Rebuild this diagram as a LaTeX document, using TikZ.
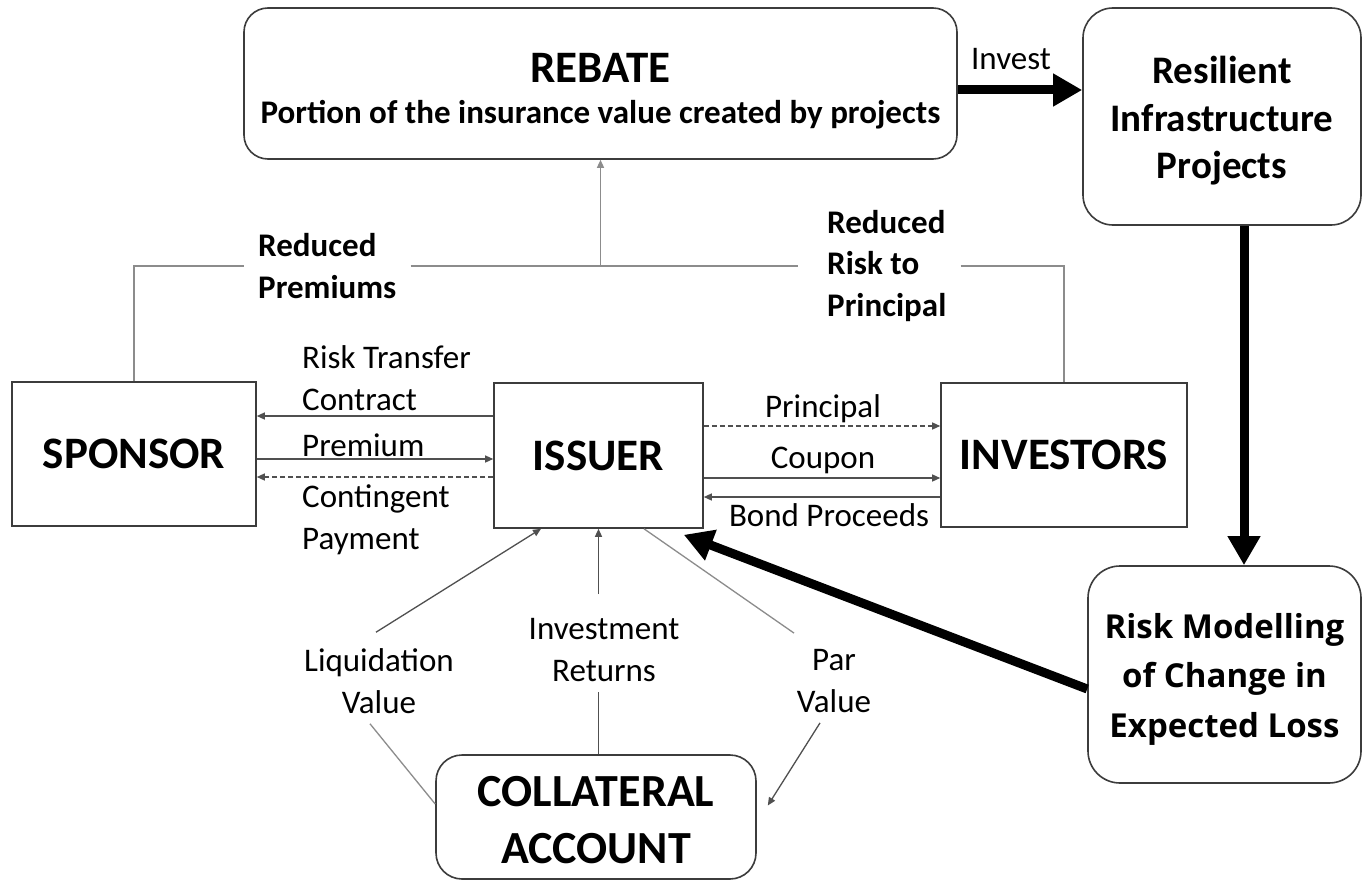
\documentclass[tikz,border=0pt]{standalone}
\usepackage{fontspec}
\setmainfont{Carlito}
\newfontfamily\modelfont{Open Sans}
\usetikzlibrary{arrows.meta,positioning,calc}
\definecolor{catgray}{RGB}{60,60,60}
\definecolor{catlink}{RGB}{80,80,80}
\definecolor{catlight}{RGB}{140,140,140}
\tikzset{
  entity/.style={draw=catgray, line width=1.6pt, fill=white, inner sep=0pt, align=center, font=\bfseries\fontsize{45}{52}\selectfont},
  roundentity/.style={entity, rounded corners=26pt},
  flowlabel/.style={inner sep=0pt, align=left, font=\fontsize{33}{42}\selectfont},
  pathlabel/.style={flowlabel, align=center, inner ysep=10pt},
  gainlabel/.style={inner sep=0pt, inner xsep=14pt, align=left, font=\bfseries\fontsize{33}{41.5}\selectfont},
  link/.style={draw=catlink, line width=1.3pt},
  linkarrow/.style={link, -{Triangle[length=8pt,width=7pt]}},
  bigarrow/.style={line width=9pt, -{Triangle[length=29pt,width=31pt]}},
}
\begin{document}
\begin{tikzpicture}[x=1pt, y=-1pt]
  \fill[white] (0,0) rectangle (1363,880);
  \useasboundingbox (0,0) rectangle (1363,880);

  \node[roundentity, minimum width=713pt, minimum height=151pt, rounded corners=24pt] (rebate) at (600.5,83.5)
    {\rule{0pt}{45pt}\fontsize{45}{50}\selectfont REBATE\\[-11pt]\fontsize{33}{42}\selectfont Portion of the insurance value created by projects};
  \node[roundentity, minimum width=278pt, minimum height=217pt, rounded corners=30pt, font=\bfseries\fontsize{39}{47.5}\selectfont] (resilient) at (1222,116.5) {\rule{0pt}{36pt}Resilient\\Infrastructure\\Projects};
  \node[entity, minimum width=244pt, minimum height=144pt] (sponsor) at (134,454) {SPONSOR};
  \node[entity, minimum width=209pt, minimum height=145pt] (issuer) at (598.5,455.5) {ISSUER};
  \node[entity, minimum width=246pt, minimum height=144pt] (investors) at (1064,455) {INVESTORS};
  \node[roundentity, minimum width=273pt, minimum height=217pt, rounded corners=32pt, font=\modelfont\bfseries\fontsize{33}{49.5}\selectfont] (risk) at (1224.5,674.5) {\rule{0pt}{34pt}Risk Modelling\\of Change in\\Expected Loss};
  \node[roundentity, minimum width=320pt, minimum height=124pt, font=\bfseries\fontsize{46}{57}\selectfont] (coll) at (596,817) {\rule{0pt}{36pt}COLLATERAL\\ACCOUNT};

  \node[gainlabel, anchor=west] (redprem) at (244,266) {Reduced\\Premiums};
  \node[gainlabel, anchor=west] (redrisk) at (813,266) {Reduced\\Risk to\\Principal};
  \draw[link, draw=catlight] (sponsor.north) |- (redprem.west);
  \draw[link, draw=catlight] (redprem.east) -- ([xshift=-15pt]redprem.east -| redrisk.west);
  \draw[link, draw=catlight] (redprem.east -| redrisk.east) -| (investors.north);
  \draw[linkarrow, draw=catlight] (redprem.east -| rebate.south) -- (rebate.south);

  \node[flowlabel, anchor=west] (transfer) at (302,378) {Risk Transfer\\Contract};
  \node[flowlabel, anchor=west] (premium) at (302,445) {Premium};
  \node[flowlabel, anchor=west] (contingent) at (302,520) {Contingent\\Payment};
  \draw[linkarrow] ([yshift=39.5pt]issuer.west) -- ([yshift=39.5pt]issuer.west -| sponsor.east);
  \draw[linkarrow] ([yshift=-3.5pt]issuer.west -| sponsor.east) -- ([yshift=-3.5pt]issuer.west);
  \draw[linkarrow, dash pattern=on 5pt off 3pt] ([yshift=-21.5pt]issuer.west) -- ([yshift=-21.5pt]issuer.west -| sponsor.east);

  \node[flowlabel] (principal) at (823,409) {Principal};
  \node[flowlabel] (coupon) at (823,460) {Coupon};
  \node[flowlabel] (proceeds) at (829,515) {Bond Proceeds};
  \draw[linkarrow, dash pattern=on 5pt off 3pt] ([yshift=29.5pt]issuer.east) -- ([yshift=29.5pt]issuer.east -| investors.west);
  \draw[linkarrow] ([yshift=-22.5pt]issuer.east) -- ([yshift=-22.5pt]issuer.east -| investors.west);
  \draw[linkarrow] ([yshift=-41.5pt]issuer.east -| investors.west) -- ([yshift=-41.5pt]issuer.east);

  \node[pathlabel] (liq) at (379,681) {Liquidation\\Value};
  \node[pathlabel] (inv) at (604,650) {Investment\\Returns};
  \node[pathlabel] (par) at (834,681) {Par\\Value};
  \draw[link, draw=catlight] ([yshift=13pt]coll.west) -- ([xshift=-9pt]liq.south);
  \draw[linkarrow] ([xshift=-3pt,yshift=6pt]liq.north) -- ([xshift=-57.5pt]issuer.south);
  \draw[link] (coll.north -| issuer.south) -- (inv.south -| issuer.south);
  \draw[linkarrow] ([yshift=14pt]inv.north -| issuer.south) -- (issuer.south);
  \draw[link, draw=catlight] ([xshift=45.5pt]issuer.south) -- ([xshift=-40pt,yshift=6pt]par.north);
  \draw[linkarrow] ([xshift=-14pt]par.south) -- ([xshift=11pt,yshift=11.5pt]coll.east);

  \node[flowlabel] (invest) at (1011,59) {Invest};
  \coordinate (hit) at ([xshift=-20pt,yshift=-6pt]issuer.south east);
  \draw[bigarrow] ([yshift=-6.5pt]rebate.east) -- ([yshift=-6.5pt]rebate.east -| resilient.west);
  \draw[bigarrow] ([xshift=22pt]resilient.south) -- ([xshift=22pt]resilient.south |- risk.north);
  \draw[bigarrow] ([yshift=-14.5pt]risk.west) -- (hit);
\end{tikzpicture}
\end{document}
